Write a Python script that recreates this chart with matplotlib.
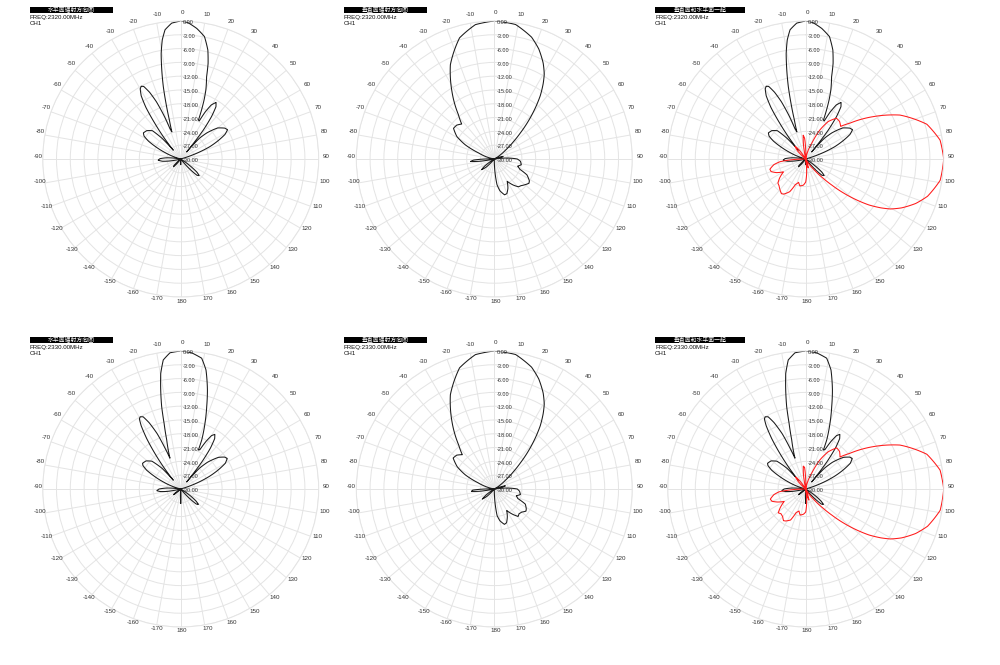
import numpy as np
import matplotlib
matplotlib.use('Agg')
import matplotlib.pyplot as plt
from matplotlib.patches import Rectangle

plt.rcParams['font.family'] = ['Liberation Sans', 'Noto Sans CJK SC', 'DejaVu Sans']

# ---------------- data (angle in degrees, level in dB) ----------------
h2320_ang = [-180, -177, -144, -140, -137, -134, -130, -105, -100, -97, -93, -89, -85, -81,
             -76, -72, -68, -64, -61, -58, -55, -50, -45, -42, -40, -38, -36, -34, -32, -30,
             -28.5, -27, -25, -23, -21, -19.5, -18, -16.2, -14.8, -13.5, -12, -10.5, -8.8,
             -6.9, -3.8, 0, 3, 7, 11, 14, 16, 17.5, 20, 21.6, 23, 24.5, 26, 27.5, 29.5, 32,
             34, 36, 38, 40, 42, 45, 50, 55, 58, 61, 64, 67, 70, 74, 122, 126, 129, 132, 135,
             138, 142, 177, 180]
h2320_db = [-28.8, -30, -30, -28.5, -27.7, -28, -30, -30, -27.5, -26, -25.1, -25.5, -27, -29.5,
            -30, -28.5, -26.5, -24, -22, -20.6, -20.1, -20.4, -21.3, -24, -27.5, -24, -20.5,
            -16.5, -13.8, -12.4, -12, -12.3, -14, -16.5, -20, -23, -23.8, -21.2, -17.5, -13.8,
            -10.2, -6.7, -3.8, -1.7, -0.4, 0, -0.3, -1.4, -2.9, -5.6, -8.4, -11.3, -14.0, -16.2,
            -18.4, -20.7, -20.8, -18.5, -16.5, -15.5, -16.3, -18.6, -22, -28, -24, -22, -19.5,
            -18.3, -18, -19, -21, -23.1, -26, -30, -30, -27.5, -25.5, -24.6, -25, -27, -30,
            -30, -28.8]

v2320_ang = [-180, -140, -135, -130, -126, -122, -102, -99, -96, -93, -90, -87, -80, -74, -69,
             -64, -59, -53, -48, -43, -39, -32, -25, -16, -8, 0, 9, 17, 22, 27, 30.5, 33, 36,
             39, 42, 45, 48, 52, 56, 62, 70, 74, 78, 82, 86, 90, 95, 102, 107, 112, 116, 122,
             125, 130, 135, 139, 144, 150, 155, 160, 164, 170, 174, 178, 180]
v2320_db = [-30, -30, -27.5, -26.4, -27.5, -30, -30, -27, -24.8, -25.5, -28, -30, -30, -28,
            -26.4, -23, -20.5, -18.9, -19.0, -19.6, -17.6, -12.6, -7.4, -2.6, -0.5, 0, -0.4,
            -2.3, -4.2, -6.6, -8.6, -10.5, -13, -16, -19, -22, -24.5, -27, -28.5, -30, -29,
            -28, -29, -30, -27, -25, -24.3, -24, -24.7, -24, -22.1, -21, -20.8, -21.3, -21.8,
            -22.0, -23, -24.4, -23, -22, -21.9, -23, -24.4, -28, -30]

h2330_ang = [-180, -176, -134, -131, -128, -125, -122, -104, -100, -97, -94, -90, -86, -82,
             -76, -72, -68, -64, -61, -58, -56, -51, -46, -42, -40, -38, -36, -34, -32, -30.5,
             -29.3, -27.5, -25.5, -23, -21, -19.2, -15.9, -14.2, -13, -11.4, -9.8, -7.7, -4.5,
             0, 4.6, 9.1, 12, 15.1, 17.5, 20.3, 23.2, 24.4, 26, 28, 30, 32, 34, 36, 38, 40, 42,
             45, 50, 54, 56.7, 60, 63, 66, 70, 74, 121, 125, 128, 131, 134, 137, 141, 176, 180]
h2330_db = [-26.9, -30, -30, -28.5, -28, -29, -30, -30, -27, -25.5, -24.8, -25.3, -27, -30,
            -30, -28, -26, -23.5, -21.5, -20.3, -20, -20.3, -21.3, -24, -27.5, -24, -20.5,
            -16.8, -13.8, -12.3, -12, -12.3, -14, -17, -20.5, -22.9, -18.9, -15.3, -11.6, -8.0,
            -4.5, -1.7, -0.3, 0, -0.3, -1.2, -3.55, -7.7, -11.2, -14.8, -18.4, -20.7, -20.5,
            -18.3, -16.6, -16, -16.8, -19, -22.5, -28, -24, -21.8, -19.3, -18.2, -17.9, -18.8,
            -20.8, -23, -26.5, -30, -30, -27.5, -25.8, -24.9, -25.3, -27.3, -30, -30, -26.9]

v2330_ang = [-180, -140, -135, -130, -126, -122, -102, -99, -96, -93, -90, -87, -80, -74, -69,
             -64, -59, -53, -48, -43, -39, -32, -25, -16, -8, 0, 9, 17, 22, 27, 30.5, 33, 36,
             39, 42, 45, 48, 52, 56, 62, 70, 74, 78, 82, 86, 90, 95, 102, 107, 112, 116, 122,
             125, 130, 135, 139, 144, 150, 155, 160, 164, 170, 174, 178, 180]
v2330_db = [-30, -30, -27.8, -26.6, -27.8, -30, -30, -27, -25.0, -25.3, -28, -30, -30, -28,
            -26.2, -23, -20.6, -18.8, -19.0, -19.8, -17.7, -12.6, -7.4, -2.6, -0.5, 0, -0.4,
            -2.3, -4.2, -6.6, -8.6, -10.5, -13, -16, -19, -22, -24.5, -27, -28.5, -30, -29,
            -27.5, -28.5, -30, -27, -25, -24.5, -24.2, -25, -24.5, -22.5, -21.8, -21.6, -22.2,
            -22.4, -22.1, -23.2, -24.6, -23.3, -22.2, -22.0, -23, -24.2, -28, -30]

freqs = ['2320.00MHz', '2330.00MHz']
titles = ['水平面辐射方向图', '垂直面辐射方向图', '垂直面和水平面一起']
ring_labels = ['0.00', '-3.00', '-6.00', '-9.00', '-12.00', '-15.00', '-18.00', '-21.00',
               '-24.00', '-27.00', '-30.00']
angle_ticks = list(range(0, 360, 10))
angle_labels = [str(a) if a <= 180 else str(a - 360) for a in angle_ticks]

# ---------------- layout ----------------
W, H = 1000, 665
fig = plt.figure(figsize=(W / 100, H / 100), dpi=100, facecolor='white')

cxs = [180.7, 494.3, 805.7]
cys = [159.0, 489.0]
R = 138.0
FLOOR = -30.0
GRID = '#e4e4e4'


def fx(x):
    return x / W


def fy(y):
    return 1 - y / H


def to_r(db):
    return np.clip(np.asarray(db, dtype=float) - FLOOR, 0, None)


def polar_line(ax, ang, db, color):
    ln, = ax.plot(np.deg2rad(ang), to_r(db), color=color, lw=0.75)
    # let the polar transform draw segments as smooth curves
    ln.get_path()._interpolation_steps = 12
    return ln


rows = [(h2320_ang, h2320_db, v2320_ang, v2320_db),
        (h2330_ang, h2330_db, v2330_ang, v2330_db)]

for ri, (ha_, hd_, va_, vd_) in enumerate(rows):
    cy = cys[ri]
    for ci in range(3):
        cx = cxs[ci]
        ax = fig.add_axes([fx(cx - R), fy(cy + R), 2 * R / W, 2 * R / H], projection='polar')
        ax.set_theta_zero_location('N')
        ax.set_theta_direction(-1)
        ax.set_ylim(0, 30)
        ax.set_yticks(np.arange(3, 31, 3))
        ax.set_yticklabels([])
        ax.set_xticks(np.deg2rad(angle_ticks))
        ax.set_xticklabels([])
        ax.grid(True, color=GRID, lw=0.7)
        ax.spines['polar'].set_color(GRID)
        ax.spines['polar'].set_linewidth(0.7)
        ax.tick_params(length=0)

        if ci == 0:
            polar_line(ax, ha_, hd_, '#1a1a1a')
        elif ci == 1:
            polar_line(ax, va_, vd_, '#1a1a1a')
        else:
            polar_line(ax, ha_, hd_, '#1a1a1a')
            polar_line(ax, np.asarray(va_) + 90, vd_, '#ff1a1a')

        # radial labels
        for k, lab in enumerate(ring_labels):
            rpx = R * (10 - k) / 10
            fig.text(fx(cx + 2.5), fy(cy - rpx + 1.7), lab, ha='left', va='center',
                     fontsize=4.0, color='#333333', zorder=10)
        # angle labels
        for a, lab in zip(angle_ticks, angle_labels):
            t = np.deg2rad(a)
            x = cx + 144.3 * np.sin(t) + 1.5
            y = cy - 144.3 * np.cos(t) - 2.3
            fig.text(fx(x), fy(y), lab, ha='center', va='center', fontsize=4.5,
                     color='#333333')

        # header
        bx = cx - 150.7
        bw = 90 if ci == 2 else 83
        by = 6.7 + 330 * ri
        fig.patches.append(Rectangle((fx(bx), fy(by + 6.6)), bw / W, 6.6 / H,
                                     transform=fig.transFigure, facecolor='black',
                                     edgecolor='none', zorder=5))
        fig.text(fx(bx + bw / 2), fy(by + 3.3), titles[ci], ha='center', va='center',
                 fontsize=4.2, color='white', zorder=6)
        fig.text(fx(bx), fy(17 + 330 * ri), 'FREQ:' + freqs[ri], ha='left', va='center',
                 fontsize=4.4, color='#111111')
        fig.text(fx(bx), fy(23.5 + 330 * ri), 'CH1', ha='left', va='center',
                 fontsize=4.4, color='#111111')

fig.savefig('out.png', dpi=100, facecolor='white')
